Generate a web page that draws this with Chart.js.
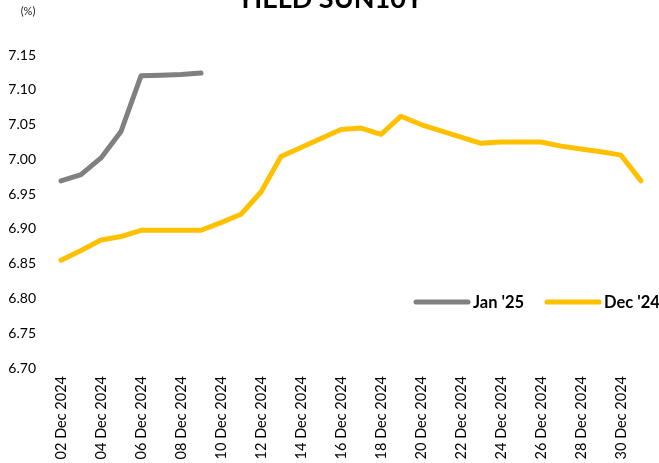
<!DOCTYPE html>
<html>
<head>
<meta charset="utf-8">
<script src="https://cdn.jsdelivr.net/npm/chart.js@4/dist/chart.umd.min.js"></script>
<style>
  html, body { margin: 0; padding: 0; background: #ffffff; }
  #wrap { width: 659px; height: 463px; position: relative; }
</style>
</head>
<body>
<div id="wrap"><canvas id="chart" width="659" height="463"></canvas></div>
<script>
// One category per calendar day in December 2024
const days = [
  '02 Dec 2024','03 Dec 2024','04 Dec 2024','05 Dec 2024','06 Dec 2024',
  '07 Dec 2024','08 Dec 2024','09 Dec 2024','10 Dec 2024','11 Dec 2024',
  '12 Dec 2024','13 Dec 2024','14 Dec 2024','15 Dec 2024','16 Dec 2024',
  '17 Dec 2024','18 Dec 2024','19 Dec 2024','20 Dec 2024','21 Dec 2024',
  '22 Dec 2024','23 Dec 2024','24 Dec 2024','25 Dec 2024','26 Dec 2024',
  '27 Dec 2024','28 Dec 2024','29 Dec 2024','30 Dec 2024','31 Dec 2024'
];

// 10Y government bond yield, %
const jan25 = [6.969, 6.978, 7.002, 7.040, 7.120, 7.121, 7.122, 7.124];
const dec24 = [
  6.855, 6.869, 6.884, 6.889, 6.898, 6.898, 6.898, 6.898, 6.909, 6.921,
  6.953, 7.004, 7.017, 7.030, 7.043, 7.045, 7.036, 7.062, 7.050, 7.041,
  7.032, 7.023, 7.025, 7.025, 7.025, 7.019, 7.015, 7.011, 7.006, 6.969
];

const seriesNames = ["Jan '25", "Dec '24"];
const titleText = 'YIELD SUN10Y';
const unitText = '(%)';

const FONT = 'Lato, "Open Sans", sans-serif';

// Title, unit label and legend drawn on the canvas
const decorations = {
  id: 'decorations',
  afterDraw(chart) {
    const ctx = chart.ctx;
    ctx.save();
    // title (partly above the top edge)
    ctx.fillStyle = '#000000';
    ctx.font = 'bold 27px ' + FONT;
    ctx.textAlign = 'center';
    ctx.textBaseline = 'alphabetic';
    ctx.fillText(titleText, 330, 8);
    // unit
    ctx.font = '11px ' + FONT;
    ctx.fillStyle = '#222222';
    ctx.fillText(unitText, 28, 15);
    // legend
    const ly = 302;
    let lx = 416;
    ctx.font = 'bold 16.5px ' + FONT;
    ctx.textAlign = 'left';
    ctx.textBaseline = 'middle';
    chart.data.datasets.forEach((ds) => {
      ctx.strokeStyle = ds.borderColor;
      ctx.lineWidth = 5;
      ctx.lineCap = 'round';
      ctx.beginPath();
      ctx.moveTo(lx, ly);
      ctx.lineTo(lx + 52, ly);
      ctx.stroke();
      ctx.fillStyle = '#000000';
      ctx.fillText(ds.label, lx + 57, ly + 1);
      lx += 131;
    });
    ctx.restore();
  }
};

new Chart(document.getElementById('chart'), {
  type: 'line',
  data: {
    labels: days,
    datasets: [
      {
        label: seriesNames[0],
        data: jan25,
        borderColor: '#808080',
        borderWidth: 5,
        borderCapStyle: 'round',
        borderJoinStyle: 'round',
        pointRadius: 0,
        tension: 0,
        fill: false
      },
      {
        label: seriesNames[1],
        data: dec24,
        borderColor: '#FFC000',
        borderWidth: 5,
        borderCapStyle: 'round',
        borderJoinStyle: 'round',
        pointRadius: 0,
        tension: 0,
        fill: false
      }
    ]
  },
  options: {
    responsive: false,
    animation: false,
    layout: { padding: { top: 55, right: 8, left: 0, bottom: 0 } },
    plugins: {
      legend: { display: false },
      tooltip: { enabled: false },
      title: { display: false }
    },
    scales: {
      x: {
        type: 'category',
        offset: true,
        grid: { display: false, drawTicks: false },
        border: { display: false },
        ticks: {
          autoSkip: false,
          maxRotation: 90,
          minRotation: 90,
          padding: 8,
          color: '#000000',
          font: { family: FONT, size: 14.5 },
          callback: function (value, index) {
            return index % 2 === 0 ? this.getLabelForValue(value) : '';
          }
        },
        afterFit(scale) {
          scale.height = 95;
          scale.paddingLeft = 0;
          scale.paddingRight = 0;
        }
      },
      y: {
        min: 6.70,
        max: 7.15,
        grid: { display: false, drawTicks: false },
        border: { display: false },
        ticks: {
          stepSize: 0.05,
          padding: 15,
          color: '#000000',
          font: { family: FONT, size: 14 },
          callback: (v) => Number(v).toFixed(2)
        },
        afterFit(scale) {
          scale.width = 51;
          scale.paddingTop = 0;
          scale.paddingBottom = 0;
        }
      }
    }
  },
  plugins: [decorations]
});
</script>
</body>
</html>
